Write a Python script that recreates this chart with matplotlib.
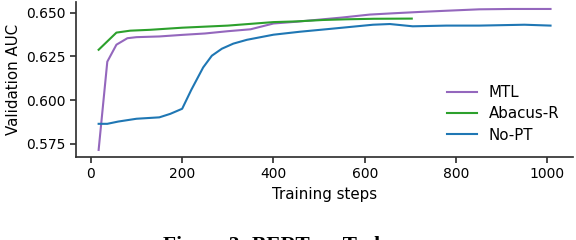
import matplotlib
matplotlib.use("Agg")
import matplotlib.pyplot as plt

# ---- data ----
mtl_steps = [17, 36, 56, 80, 100, 150, 200, 250, 300, 350, 400, 450, 500, 550, 611, 660, 720, 780, 851, 920, 1007]
mtl_auc = [0.5716, 0.6220, 0.6317, 0.6354, 0.6360, 0.6364, 0.6373, 0.6381, 0.6394, 0.6405, 0.6438, 0.6448, 0.6460, 0.6472, 0.6489, 0.6496, 0.6504, 0.6511, 0.6519, 0.6521, 0.6521]

abacus_steps = [17, 56, 86, 130, 200, 250, 300, 350, 400, 450, 508, 560, 620, 703]
abacus_auc = [0.6288, 0.6386, 0.6397, 0.6402, 0.6414, 0.6420, 0.6426, 0.6436, 0.6446, 0.6450, 0.6458, 0.6462, 0.6465, 0.6466]

nopt_steps = [17, 36, 60, 100, 150, 174, 200, 220, 246, 265, 287, 312, 342, 400, 458, 523, 618, 655, 705, 779, 851, 950, 1007]
nopt_auc = [0.5865, 0.5865, 0.5878, 0.5894, 0.5902, 0.5922, 0.5951, 0.6059, 0.6187, 0.6254, 0.6294, 0.6323, 0.6345, 0.6374, 0.6391, 0.6407, 0.6431, 0.6435, 0.6422, 0.6426, 0.6426, 0.6431, 0.6426]

series_labels = ["MTL", "Abacus-R", "No-PT"]
x_label = "Training steps"
y_label = "Validation AUC"
caption = "Figure 3: BERT on Task"

plt.rcParams['font.family'] = ['DejaVu Sans']
plt.rcParams['font.size'] = 10

fig = plt.figure(figsize=(5.76, 2.4), dpi=100)
ax = fig.add_axes([0.132, 0.346, 0.863, 0.646])

ax.plot(mtl_steps, mtl_auc, color='#9467bd', lw=1.5, label=series_labels[0])
ax.plot(abacus_steps, abacus_auc, color='#2ca02c', lw=1.5, label=series_labels[1])
ax.plot(nopt_steps, nopt_auc, color='#1f77b4', lw=1.5, label=series_labels[2])

ax.set_xticks([0, 200, 400, 600, 800, 1000])
ax.set_yticks([0.575, 0.600, 0.625, 0.650])
ax.set_xlabel(x_label, fontsize=10.8)
ax.set_ylabel(y_label, fontsize=10.8)
for s in ['top', 'right']:
    ax.spines[s].set_visible(False)
for s in ['left', 'bottom']:
    ax.spines[s].set_color('#333333')
    ax.spines[s].set_linewidth(1.25)
ax.tick_params(color='#333333', width=1.25, length=4)

ax.legend(loc='lower right', frameon=False, fontsize=10.8, labelspacing=0.42,
          bbox_to_anchor=(1.0, 0.005))

fig.text(0.4774, 0.0167, caption, ha='center', va='top', family='Liberation Serif',
         fontweight='bold', fontsize=15.5)

fig.savefig('out.png', dpi=100)
